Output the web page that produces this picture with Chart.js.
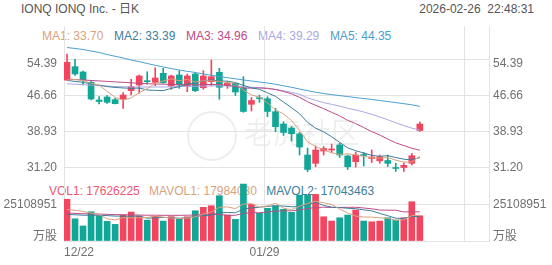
<!DOCTYPE html>
<html><head><meta charset="utf-8">
<script src="https://cdn.jsdelivr.net/npm/chart.js@4.4.1/dist/chart.umd.min.js"></script>
<style>
html,body{margin:0;padding:0;background:#fff;}
#wrap{position:relative;width:552px;height:265px;overflow:hidden;font-family:"Liberation Sans",Arial,"Noto Sans CJK SC",sans-serif;font-size:12px;}
#c{position:absolute;left:0;top:0;z-index:2;}
.t{position:absolute;white-space:pre;line-height:14px;z-index:1;}
.leg span{display:inline-block;}
#wm{position:absolute;left:244px;top:116px;font-size:29px;line-height:30px;color:rgba(0,0,0,0.07);font-family:"Noto Sans CJK SC",sans-serif;z-index:0;}
#wmc{position:absolute;left:187px;top:111px;width:46px;height:46px;border:2px solid rgba(0,0,0,0.07);border-radius:50%;z-index:0;}
</style></head>
<body>
<div id="wrap">
  <div id="wmc"></div>
  <div id="wm">老虎社区</div>
  <div class="t" id="title" style="left:21px;top:2px;color:#555;"></div>
  <div class="t" id="stamp" style="right:18px;top:2px;color:#555;"></div>
  <div class="t leg" id="maLeg" style="left:42px;top:29px;"></div>
  <div class="t leg" id="volLeg" style="left:49px;top:184px;"></div>
  <canvas id="c" width="552" height="265"></canvas>
</div>
<script>
const titleText = 'IONQ IONQ Inc. - 日K';
const stampText = '2026-02-26  22:48:31';
const dates = ['12/22','12/23','12/24','12/26','12/29','12/30','12/31','01/02','01/05','01/06',
  '01/07','01/08','01/09','01/12','01/13','01/14','01/15','01/16','01/20','01/21',
  '01/22','01/23','01/26','01/27','01/28','01/29','01/30','02/02','02/03','02/04',
  '02/05','02/06','02/09','02/10','02/11','02/12','02/13','02/17','02/18','02/19',
  '02/20','02/23','02/24','02/25','02/26'];
const openP = [49.98,52.85,51.71,49.51,45.72,46.36,45.78,45.93,47.71,48.93,
  49.85,49.51,51.43,48.72,51.07,48.72,51.29,48.35,49.64,51.65,
  48.78,49.29,48.29,44.80,46.21,45.99,43.21,40.58,39.72,38.44,
  33.94,32.16,34.80,35.01,36.08,33.73,32.51,34.05,33.19,32.70,
  32.76,31.26,31.26,32.16,39.19];
const highP = [55.57,54.43,51.93,49.79,46.43,46.64,46.08,47.28,50.15,51.07,
  51.78,52.63,52.50,51.07,52.00,51.29,51.56,52.00,54.28,52.50,
  49.64,49.46,50.71,46.25,46.79,46.43,43.94,41.07,40.04,38.76,
  35.44,35.87,35.76,36.30,36.45,33.94,34.58,34.48,35.01,33.94,
  33.94,32.16,32.23,34.26,41.00];
const lowP = [49.90,50.96,48.93,45.72,44.86,45.01,44.86,43.94,46.79,47.15,
  49.14,48.78,49.29,48.01,48.22,47.50,47.50,48.01,48.72,45.87,
  48.22,46.68,43.08,43.36,45.22,42.14,38.93,38.12,36.94,33.94,
  30.36,31.43,33.94,34.48,33.40,30.84,31.37,31.58,32.33,32.16,
  31.48,30.41,30.41,31.80,38.97];
const closeP = [53.79,51.29,50.00,45.93,45.40,45.22,44.93,46.79,48.57,50.86,
  49.64,50.43,49.42,50.86,48.93,50.86,47.71,50.86,50.71,48.44,
  49.29,47.43,43.26,45.61,45.99,43.26,40.00,38.76,38.50,35.65,
  30.84,35.01,35.33,35.23,33.94,31.43,33.94,33.83,33.51,33.58,
  32.16,31.05,31.73,33.79,40.58];
const ma1 = [50.00,50.10,49.90,49.30,48.90,47.57,46.30,45.65,46.18,47.27,
  48.16,49.26,49.78,50.24,49.86,50.10,49.56,49.84,49.81,49.72,
  49.40,49.35,47.83,46.81,46.32,45.11,43.62,42.72,41.30,39.23,
  36.75,35.75,35.07,34.41,34.07,34.19,33.97,33.67,33.33,33.26,
  33.40,32.83,32.41,32.46,33.70];
const ma2 = [49.90,49.70,49.50,49.20,48.90,48.60,48.40,48.30,48.20,48.28,
  47.86,47.78,47.72,48.21,48.57,49.13,49.41,49.81,50.03,49.79,
  49.75,49.45,48.84,48.31,48.02,47.26,46.49,45.28,44.05,42.78,
  40.93,39.69,38.90,37.86,36.65,35.47,34.86,34.37,33.87,33.66,
  33.80,33.40,33.04,32.90,33.39];
const ma3 = [50.20,50.10,50.00,49.90,49.80,49.70,49.60,49.50,49.40,49.30,
  49.20,49.15,49.10,49.05,49.00,49.00,48.95,49.00,49.05,49.03,
  48.81,48.61,48.28,48.26,48.29,48.19,47.95,47.54,47.04,46.28,
  45.34,44.57,43.87,43.08,42.33,41.36,40.67,39.82,38.96,38.22,
  37.36,36.54,35.97,35.38,34.96];
const ma4 = [49.20,49.10,49.00,48.90,48.80,48.70,48.60,48.55,48.50,48.50,
  48.50,48.50,48.50,48.55,48.60,48.65,48.65,48.70,48.75,48.75,
  48.75,48.70,48.55,48.45,48.40,48.25,48.00,47.70,47.35,46.95,
  46.18,45.64,45.15,44.79,44.41,43.95,43.59,43.15,42.65,42.08,
  41.49,40.85,40.26,39.69,39.29];
const ma5 = [56.96,56.75,56.53,56.21,55.89,55.46,55.08,54.71,54.28,53.92,
  53.53,53.15,52.78,52.46,52.14,51.86,51.61,51.29,51.01,50.75,
  50.50,50.26,50.00,49.79,49.57,49.36,49.08,48.76,48.44,48.07,
  47.71,47.39,47.11,46.87,46.66,46.45,46.23,46.04,45.83,45.61,
  45.38,45.16,44.93,44.69,44.35];
const volume = [29100000,15500000,10500000,20400000,17400000,13700000,11600000,18100000,20200000,17400000,
  14600000,17200000,13900000,17000000,15300000,16900000,21100000,23500000,24600000,31600000,
  18100000,15100000,39700000,25600000,19300000,22800000,24600000,22100000,20000000,32000000,
  32000000,32500000,16900000,13900000,16200000,18100000,21600000,13900000,13400000,13900000,
  16200000,14600000,16200000,27400000,17626225];
const mavol1 = [22000000,21500000,20500000,19500000,18580000,15500000,14720000,16240000,16200000,16200000,
  16380000,17500000,16660000,16020000,15600000,16060000,16840000,18760000,20280000,23540000,
  23780000,22580000,25820000,26020000,23560000,24500000,26400000,22880000,21760000,24300000,
  26140000,27720000,26680000,25460000,22300000,19520000,17340000,16740000,16640000,16180000,
  15800000,14400000,14860000,17660000,17984030];
const mavol2 = [18500000,18300000,18000000,18000000,17900000,17700000,17400000,17300000,17300000,17390000,
  15940000,16110000,16450000,16110000,15900000,16220000,17170000,17710000,18150000,19570000,
  19920000,19710000,22290000,23150000,23550000,24140000,24490000,24350000,23890000,23930000,
  25320000,27060000,24780000,23610000,23300000,22830000,22530000,21710000,21050000,19240000,
  17660000,15870000,15800000,17150000,17043463];
const mavol3 = [19500000,19300000,19000000,18900000,18800000,18600000,18400000,18300000,18200000,18100000,
  18000000,18000000,17900000,17900000,17900000,18000000,18100000,18300000,18400000,18480000,
  17930000,17910000,19370000,19630000,19730000,20180000,20830000,21030000,21020000,21750000,
  22620000,23390000,23540000,23380000,23430000,23490000,23510000,23030000,22470000,21590000,
  21490000,21470000,20290000,20380000,20300000];
const priceTicks = [54.39, 46.66, 38.93, 31.20];
const volTicks = [0, 25108951];
const volUnit = '万股';
const xTickIdx = [0, 25, 50];

// styling / layout
const FONT = '"Liberation Sans", Arial, "Noto Sans CJK SC", sans-serif';
const RED = '#f3455f', GREEN = '#12a696';
const GRID = '#e3e3e3', LABEL = '#707070';
const C_MA = ['#d9a27f', '#3d7e9a', '#bd4b85', '#aaa7e4', '#4b9ecc'];
const C_VOL = '#f0566e';
const P_MIN = 15.525, P_MAX = 61.563, V_MAX = 149955680;
const SLOT = 0.375, X_MIN = -0.375, X_MAX = 52.625;

document.getElementById('title').textContent = titleText;
document.getElementById('stamp').textContent = stampText;
const last = closeP.length - 1;
const maArr = [ma1, ma2, ma3, ma4, ma5];
document.getElementById('maLeg').innerHTML = maArr.map((a, k) =>
  `<span style="color:${C_MA[k]};margin-right:10.6px">MA${k+1}: ${a[last].toFixed(2)}</span>`).join('');
document.getElementById('volLeg').innerHTML =
  `<span style="color:${C_VOL};margin-right:9.3px">VOL1: ${volume[last]}</span>` +
  `<span style="color:${C_MA[0]};margin-right:9.3px">MAVOL1: ${mavol1[last]}</span>` +
  `<span style="color:${C_MA[1]}">MAVOL2: ${mavol2[last]}</span>`;

const col = closeP.map((c, i) => c >= openP[i] ? RED : GREEN);
const pts = a => a.map((v, i) => ({x: i, y: v}));
const line = (a, color, axis) => ({type: 'line', data: pts(a), yAxisID: axis, borderColor: color,
  borderWidth: 1, pointRadius: 0, fill: false, tension: 0, order: 0});

const tickBase = {color: LABEL, font: {size: 12, family: FONT}, autoSkip: false, maxRotation: 0};
function sideAxis(pos, weight, min, max, ticks, label, opts) {
  opts = opts || {};
  return {
    type: 'linear', position: pos, weight: weight, min: min, max: max,
    afterBuildTicks: s => { s.ticks = ticks.map(v => ({value: v})); },
    afterFit: s => {
      s.width = opts.width || 0;
      if (!opts.width) { s._computeLabelArea = () => undefined; }
    },
    ticks: Object.assign({}, tickBase, {padding: pos === 'left' ? 7 : 4, labelOffset: opts.offset || 0,
      callback: (v, i) => label(i)}),
    grid: {display: !!opts.grid, color: GRID, drawTicks: false},
    border: {display: !!opts.border, color: GRID}
  };
}

new Chart(document.getElementById('c'), {
  type: 'bar',
  data: {
    datasets: [
      line(ma1, C_MA[0], 'yP'), line(ma2, C_MA[1], 'yP'), line(ma3, C_MA[2], 'yP'),
      line(ma4, C_MA[3], 'yP'), line(ma5, C_MA[4], 'yP'),
      line(mavol1, C_MA[0], 'yV'), line(mavol2, C_MA[1], 'yV'), line(mavol3, C_MA[2], 'yV'),
      {type: 'bar', data: dates.map((d, i) => ({x: i, y: [lowP[i], highP[i]]})), yAxisID: 'yP',
        backgroundColor: col, barThickness: 1, grouped: false, borderWidth: 0, order: 1},
      {type: 'bar', data: dates.map((d, i) => ({x: i, y: [openP[i], closeP[i]]})), yAxisID: 'yP',
        backgroundColor: col, barThickness: 6, minBarLength: 1, grouped: false, borderWidth: 0, order: 1},
      {type: 'bar', data: dates.map((d, i) => ({x: i, y: volume[i]})), yAxisID: 'yV',
        backgroundColor: col, barThickness: 6, grouped: false, borderWidth: 0, order: 1}
    ]
  },
  options: {
    responsive: false, animation: false, devicePixelRatio: 1, events: [],
    layout: {padding: {top: 26, left: 0, right: 0, bottom: 0}},
    plugins: {legend: {display: false}, tooltip: {enabled: false}},
    scales: {
      x: {
        type: 'linear', min: X_MIN, max: X_MAX, offset: false,
        afterBuildTicks: s => { s.ticks = xTickIdx.map(i => ({value: i - SLOT})); },
        afterFit: s => { s.height = 24; },
        ticks: Object.assign({}, tickBase, {align: 'inner', padding: 4,
          callback: (v, i) => dates[xTickIdx[i]] || ''}),
        grid: {color: GRID, drawTicks: false, offset: false},
        border: {color: GRID}
      },
      yP: sideAxis('left', 10, P_MIN, P_MAX, priceTicks, i => i === 0 ? '' : priceTicks[i].toFixed(2),
        {width: 64, grid: true, border: true}),
      yPT: sideAxis('left', 0, P_MIN, P_MAX, [priceTicks[0]], () => priceTicks[0].toFixed(2), {offset: 4.5}),
      yV: sideAxis('left', 0, 0, V_MAX, volTicks, i => i === 0 ? '' : String(volTicks[i]), {grid: true}),
      yVB: sideAxis('left', 0, 0, V_MAX, [volTicks[0]], () => volUnit, {offset: -4.5}),
      yPR: sideAxis('right', 10, P_MIN, P_MAX, priceTicks.slice(1), i => priceTicks[i + 1].toFixed(2),
        {width: 63, border: true}),
      yPTR: sideAxis('right', 0, P_MIN, P_MAX, [priceTicks[0]], () => priceTicks[0].toFixed(2), {offset: 4.5}),
      yVR: sideAxis('right', 0, 0, V_MAX, [volTicks[1]], () => String(volTicks[1])),
      yVBR: sideAxis('right', 0, 0, V_MAX, [volTicks[0]], () => volUnit, {offset: -4.5})
    }
  }
});
</script>
</body></html>
